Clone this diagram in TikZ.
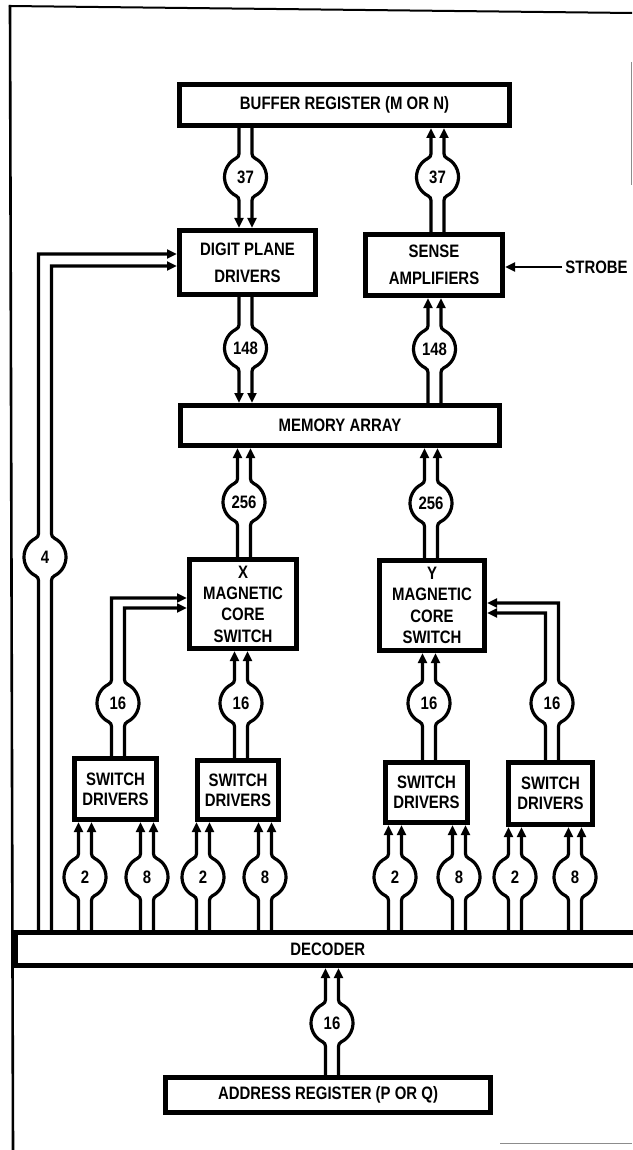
\documentclass[tikz,border=0pt]{standalone}
\usepackage{fontspec}
\setmainfont{Liberation Sans}[FakeStretch=0.83]
\usetikzlibrary{arrows.meta}

% Bus line: one contour of a double-line bus that swells into a numbered ring.
% lring / rring insert the left / right contour of a ring centred at (#1,#2),
% running from top to bottom (unit = 1 px, y grows downwards).
\tikzset{
  lring/.style 2 args={insert path={
      -- ({#1-6.5},{#2-23.3})
      arc[start angle=0,end angle=63.8,radius=5]
      arc[start angle=243.8,end angle=116.2,radius=21]
      arc[start angle=-63.8,end angle=0,radius=5]}},
  rring/.style 2 args={insert path={
      -- ({#1+6.5},{#2-23.3})
      arc[start angle=180,end angle=116.2,radius=5]
      arc[start angle=-63.8,end angle=63.8,radius=21]
      arc[start angle=243.8,end angle=180,radius=5]}},
}

% straight vertical bus: name, cx, cy, label, upper anchor, lower anchor, arrows
\newcommand\busline[7]{%
  \node[ring] (#1) at (#2,#3) {#4};
  \draw[bus,#7] ({#2-6.5},0 |- #5) [lring={#2}{#3}] -- ({#2-6.5},0 |- #6);
  \draw[bus,#7] ({#2+6.5},0 |- #5) [rring={#2}{#3}] -- ({#2+6.5},0 |- #6);
}

\begin{document}
\begin{tikzpicture}[x=0.5pt,y=-0.5pt,
  >={Triangle[length=5pt,width=4.4pt]},
  box/.style={draw,line width=2.5pt,inner sep=0pt,align=center,
    font=\bfseries\fontsize{9}{13.5}\selectfont},
  tall/.style={font=\bfseries\fontsize{9}{10.7}\selectfont},
  sdb/.style={font=\bfseries\fontsize{9}{10}\selectfont},
  ring/.style={circle,inner sep=0pt,minimum size=21pt,
    font=\bfseries\fontsize{9}{10}\selectfont},
  bus/.style={line width=1.6pt,line join=miter},
  sig/.style={line width=1.4pt},
  frame/.style={line width=1.3pt},
  faint/.style={line width=0.5pt,black!45},
]
\useasboundingbox (0,0) rectangle (632,1150);
\fill[white] (0,0) rectangle (632,1150);

% sheet border
\draw[frame] (10,5) -- (13,1150);
\draw[frame,line width=1pt] (9,6) -- (632,13);
\draw[faint] (631,62) -- (631,185);
\draw[faint] (500,1143) -- (632,1143);

% blocks
\node[box,minimum width=165pt,minimum height=20.5pt] (buf) at (344.5,105) {BUFFER REGISTER (M OR N)};
\node[box,minimum width=68pt,minimum height=32pt] (dpd) at (247.5,262.5) {DIGIT PLANE\\DRIVERS};
\node[box,minimum width=68.5pt,minimum height=30.5pt] (sa) at (434,265) {SENSE\\AMPLIFIERS};
\node[box,minimum width=159.5pt,minimum height=20pt] (mem) at (340,425.5) {MEMORY ARRAY};
\node[box,tall,minimum width=53.5pt,minimum height=44.5pt] (xs) at (243,604) {X\\MAGNETIC\\CORE\\SWITCH};
\node[box,tall,minimum width=52.5pt,minimum height=45pt] (ys) at (432,605.5) {Y\\MAGNETIC\\CORE\\SWITCH};
\node[box,sdb,minimum width=41pt,minimum height=30.5pt] (sd1) at (115.5,789) {SWITCH\\DRIVERS};
\node[box,sdb,minimum width=40.5pt,minimum height=29.5pt] (sd2) at (238,790) {SWITCH\\DRIVERS};
\node[box,sdb,minimum width=41pt,minimum height=30pt] (sd3) at (426.5,792.5) {SWITCH\\DRIVERS};
\node[box,sdb,minimum width=42pt,minimum height=31pt] (sd4) at (550.5,793.5) {SWITCH\\DRIVERS};
\node[box,minimum width=312.3pt,minimum height=16.5pt] (dec) at (327.7,949) {DECODER};
\node[box,minimum width=162.5pt,minimum height=17.5pt] (addr) at (328,1095) {ADDRESS REGISTER (P OR Q)};

% strobe input
\node[inner sep=0pt,anchor=west,font=\bfseries\fontsize{9}{10}\selectfont] (strobe) at (565,267) {STROBE};
\draw[sig,->] ([xshift=-1.5pt]strobe.west) -- (sa.east |- strobe.west);

% data buses
\busline{r37a}{245.5}{177}{37}{buf.south}{dpd.north}{->}
\busline{r37b}{437.5}{177}{37}{buf.south}{sa.north}{<-}
\busline{r148a}{245.5}{348}{148}{dpd.south}{mem.north}{->}
\busline{r148b}{434.5}{349}{148}{sa.south}{mem.north}{<-}
\busline{r256a}{244}{502}{256}{mem.south}{xs.north}{<-}
\busline{r256b}{431}{503}{256}{mem.south}{ys.north}{<-}

% switch driver outputs
\busline{r16b}{241}{703}{16}{xs.south}{sd2.north}{<-}
\busline{r16c}{429}{703}{16}{ys.south}{sd3.north}{<-}

\node[ring] (r16a) at (118,703) {16};
\draw[bus,<-] (xs.west |- 0,598) -- (111.5,598) [lring={118}{703}] -- (111.5,0 |- sd1.north);
\draw[bus,<-] (xs.west |- 0,608) -- (124.5,608) [rring={118}{703}] -- (124.5,0 |- sd1.north);

\node[ring] (r16d) at (552,703) {16};
\draw[bus,<-] (ys.east |- 0,603) -- (558.5,603) [rring={552}{703}] -- (558.5,0 |- sd4.north);
\draw[bus,<-] (ys.east |- 0,613) -- (545.5,613) [lring={552}{703}] -- (545.5,0 |- sd4.north);

% decoder outputs to the switch drivers
\busline{d1}{85}{877}{2}{sd1.south}{dec.north}{<-}
\busline{d2}{147}{877}{8}{sd1.south}{dec.north}{<-}
\busline{d3}{203}{877}{2}{sd2.south}{dec.north}{<-}
\busline{d4}{265}{877}{8}{sd2.south}{dec.north}{<-}
\busline{d5}{395}{877}{2}{sd3.south}{dec.north}{<-}
\busline{d6}{459}{877}{8}{sd3.south}{dec.north}{<-}
\busline{d7}{515}{877}{2}{sd4.south}{dec.north}{<-}
\busline{d8}{575}{877}{8}{sd4.south}{dec.north}{<-}

% decoder output to the digit plane drivers
\node[ring] (r4) at (45,557) {4};
\draw[bus,<-] (dpd.west |- 0,254) -- (38.5,254) [lring={45}{557}] -- (38.5,0 |- dec.north);
\draw[bus,<-] (dpd.west |- 0,266) -- (51.5,266) [rring={45}{557}] -- (51.5,0 |- dec.north);

% address input
\busline{r16e}{332}{1023}{16}{dec.south}{addr.north}{<-}
\end{tikzpicture}
\end{document}
